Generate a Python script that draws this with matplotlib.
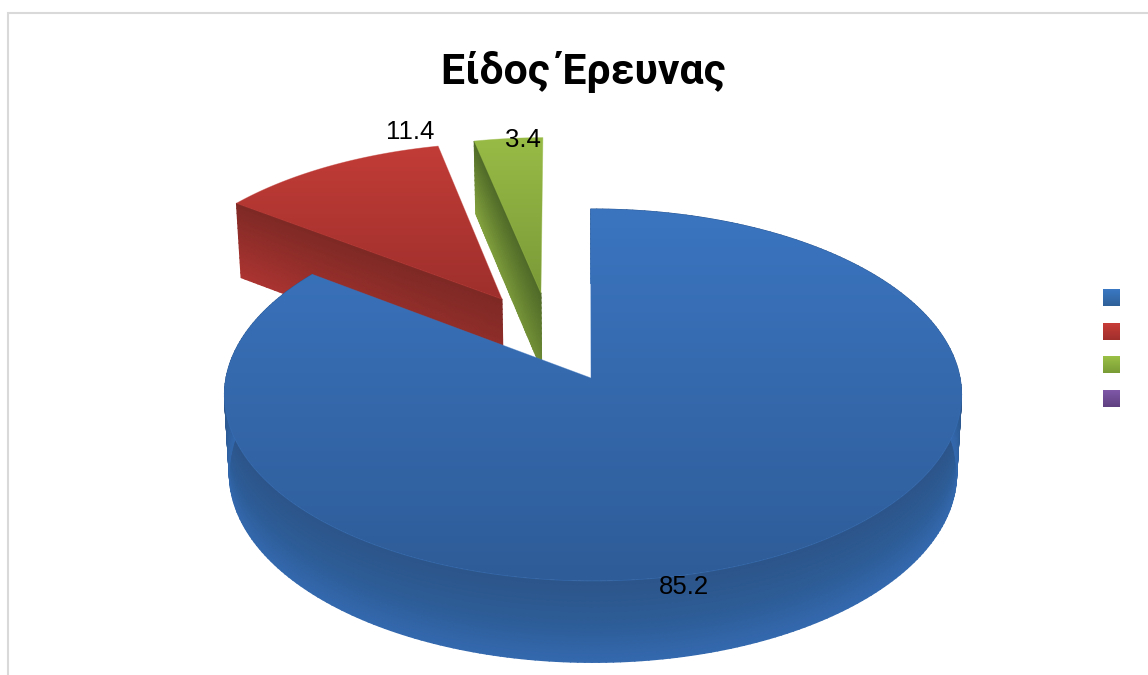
import numpy as np
import matplotlib
matplotlib.use("Agg")
import matplotlib.pyplot as plt
from matplotlib.colors import LinearSegmentedColormap
from matplotlib.patches import Polygon

title = "Είδος Έρευνας"
values = [85.2, 11.4, 3.4]
value_labels = ["85.2", "11.4", "3.4"]
legend_labels = ["", "", "", ""]  # legend text is blank in the source chart

# explode offset per slice, in pie radii
offset_u = [0.0, -0.258, -0.148]
offset_v = [0.0, 0.445, 0.48]
apex_nudge = [-0.0055, 0.0, 0.0]

face_cols = [("#3b75c0", "#2e5c98"), ("#c23c37", "#9e2f2c"), ("#98bb46", "#7a9a38")]
wall_cols = [("#2c558a", "#2d5c96", "#3469af"), ("#7e2925", "#ac3431"), ("#4f6a28", "#84a33e")]
legend_cols = [("#3a78c3", "#2f6199"), ("#c83c38", "#a02f2c"),
               ("#9bc046", "#7a9c36"), ("#7f58a8", "#5f4080")]

W, H = 1148, 675
CX, CY = 593, 378      # apex of the top face
RX, RY = 367, 184.4    # pie radii on screen
PERSP = 0.0914
START = np.radians(-0.4)


def project(u, v, f=0.0):
    # disc coordinates to pixels, f = 0 top face, 1 bottom face
    u, v = np.asarray(u, float), np.asarray(v, float)
    s = 1 / (1 + PERSP * v)
    x = CX + RX * u * s * (1 - 0.013 * f)
    y = CY - RY * v * s + (78 - 3.5 * v) * f
    return x, y


def gradient_poly(ax, xs, ys, cols, z):
    pts = np.column_stack([xs, ys])
    cmap = LinearSegmentedColormap.from_list("g", cols)
    im = ax.imshow(np.linspace(0, 1, 256)[:, None], cmap=cmap, aspect="auto", zorder=z,
                   extent=(xs.min(), xs.max(), ys.max(), ys.min()), interpolation="bilinear")
    patch = Polygon(pts, closed=True, fc="none", ec="none", transform=ax.transData)
    ax.add_patch(patch)
    im.set_clip_path(patch)
    # soft edge, clipped images have a jagged border
    ax.add_patch(Polygon(pts, closed=True, fc="none", ec=cols[0], lw=0.6, alpha=0.45, zorder=z))


def wall(ax, us, vs, cols, z, shade=None):
    fs = np.linspace(0, 1, 16)
    U, F = np.meshgrid(us, fs)
    V = np.broadcast_to(vs, U.shape)
    X, Y = project(U, V, F)
    C = F if shade is None else F * shade
    cmap = LinearSegmentedColormap.from_list("w", cols)
    ax.pcolormesh(X, Y, C, shading="gouraud", cmap=cmap, vmin=0, vmax=1, zorder=z)


fig = plt.figure(figsize=(W / 100, H / 100), dpi=100)
ax = fig.add_axes([0, 0, 1, 1])

# chart frame, cropped on the right and bottom in the source
ax.plot([8.3, 8.3, W], [H, 13, 13], color="#d9d9d9", lw=1.5, zorder=1, solid_joinstyle="miter")

edges = START + np.cumsum([0] + values) / sum(values) * 2 * np.pi
z_by_slice = [30, 20, 10]
for i in range(len(values)):
    th = np.linspace(edges[i], edges[i + 1], 300)
    du, dv = offset_u[i], offset_v[i]
    us, vs = du + np.sin(th), dv + np.cos(th)
    z = z_by_slice[i]
    if i == 0:
        # outer rim, only the near part shows
        shade = 1 - 0.1 * np.clip((th - np.pi * 1.25) / (np.pi * 0.4), 0, 1)
        wall(ax, us, vs, wall_cols[i], z, shade)
    else:
        # cut face running from the left corner to the apex
        t = np.linspace(0, 1, 60)
        eu = us[0] + (du - us[0]) * t
        ev = vs[0] + (dv - vs[0]) * t
        wall(ax, eu, ev, wall_cols[i], z, 1 - 0.4 * t)
    fx, fy = project(np.r_[du + apex_nudge[i], us], np.r_[dv, vs])
    gradient_poly(ax, fx, fy, face_cols[i], z + 1)

# data labels
label_xy = [(684, 587), (410, 132), (523, 140)]
for txt, (lx, ly) in zip(value_labels, label_xy):
    ax.text(lx, ly, txt, ha="center", va="center", fontsize=18.5, color="black",
            family="Liberation Sans", zorder=40)

ax.text(583, 72, title, ha="center", va="center", fontsize=30.8, fontweight="bold",
        family="Roboto", color="black", zorder=40)

# legend keys
key_y = [297.5, 331.5, 364.5, 398.5]
for lab, yc, cols in zip(legend_labels, key_y, legend_cols):
    cmap = LinearSegmentedColormap.from_list("k", cols)
    ax.imshow(np.linspace(0, 1, 32)[:, None], cmap=cmap, aspect="auto", zorder=40,
              extent=(1103, 1120, yc + 8.5, yc - 8.5))
    ax.text(1126, yc, lab, va="center", fontsize=12)

ax.set_xlim(0, W)
ax.set_ylim(H, 0)
ax.axis("off")
fig.savefig("out.png", dpi=100, facecolor="white")
